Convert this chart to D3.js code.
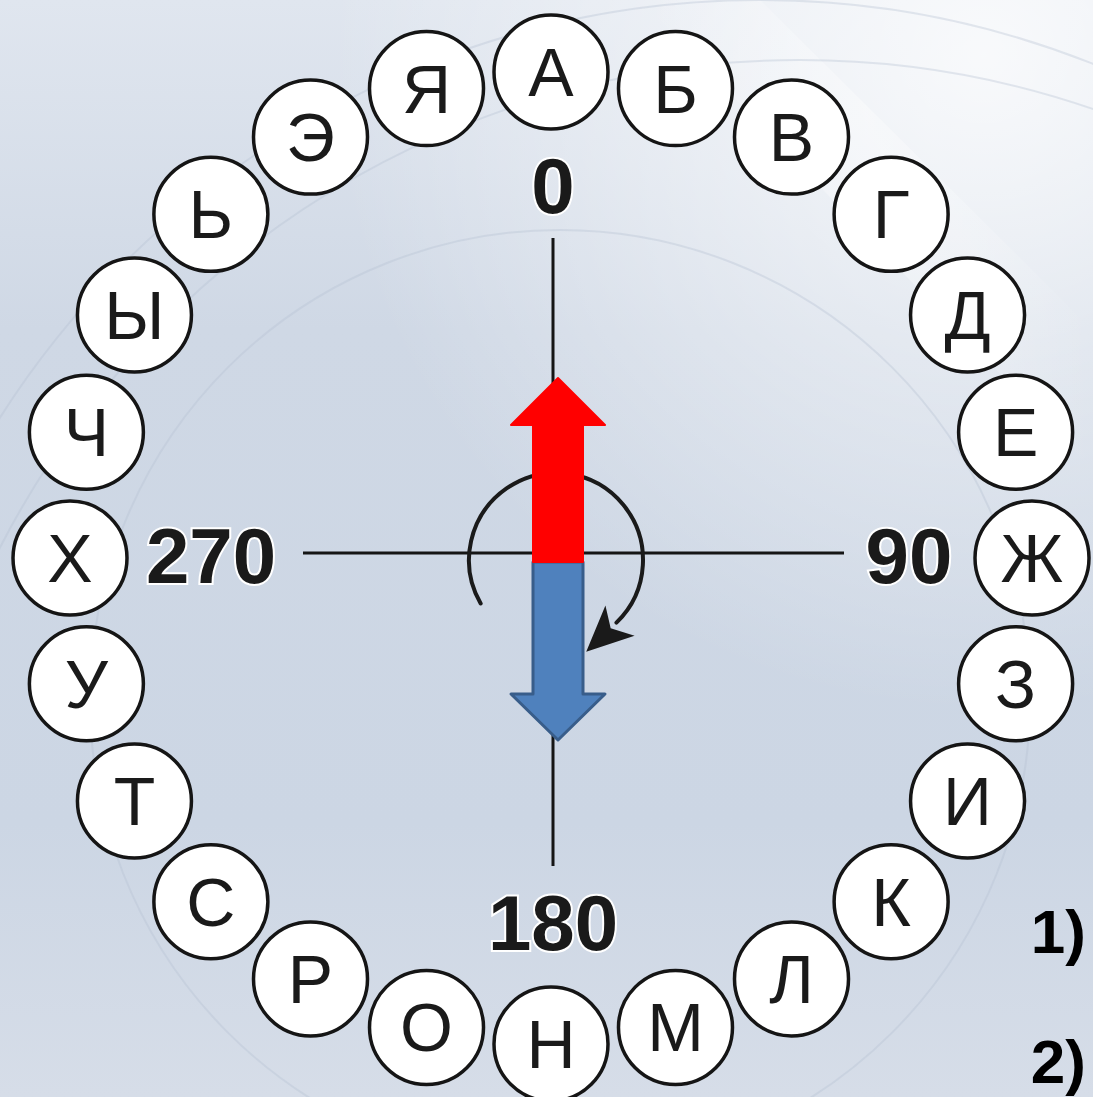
<!DOCTYPE html>
<html>
<head>
<meta charset="utf-8">
<script src="https://cdn.jsdelivr.net/npm/d3@7"></script>
<style>
  html, body { margin: 0; padding: 0; overflow: hidden; }
  svg { display: block; }
</style>
</head>
<body>
<svg id="dial"></svg>
<script>
// letters around the dial, clockwise from the top
const letters = ["А","Б","В","Г","Д","Е","Ж","З","И","К","Л","М","Н","О","Р","С","Т","У","Х","Ч","Ы","Ь","Э","Я"];
const letterDegrees = [0,15,30,45,60,75,90,105,120,135,150,165,180,195,210,225,240,255,270,285,300,315,330,345];

// compass labels
const axisLabels = ["0","90","180","270"];
const axisDegrees = [0,90,180,270];

// rotation arrow (compass degrees, clockwise)
const turnStart = 240;
const turnEnd = 136;

// side notes
const notes = ["1)","2)"];

const width = 1093, height = 1097;
const cx = 551, cy = 558;     // centre of the letter ring
const rx = 481, ry = 486;     // ring radii
const bubbleR = 57;
const axisCx = 553, axisCy = 553;

const svg = d3.select("#dial")
    .attr("width", width)
    .attr("height", height)
    .attr("viewBox", [0, 0, width, height]);

// angle scale: compass degrees -> radians
const angle = d3.scaleLinear().domain([0, 360]).range([0, 2 * Math.PI]);
const px = (deg, r) => Math.sin(angle(deg)) * r;
const py = (deg, r) => -Math.cos(angle(deg)) * r;

// ---- background
const defs = svg.append("defs");
const bg = defs.append("linearGradient").attr("id", "bg")
    .attr("x1", 0).attr("y1", 0).attr("x2", 0).attr("y2", 1);
bg.append("stop").attr("offset", 0).attr("stop-color", "#e0e6ef");
bg.append("stop").attr("offset", 0.3).attr("stop-color", "#cfd8e5");
bg.append("stop").attr("offset", 0.75).attr("stop-color", "#ccd6e4");
bg.append("stop").attr("offset", 1).attr("stop-color", "#d6dde8");

const glow = defs.append("radialGradient").attr("id", "glow")
    .attr("cx", 0.9).attr("cy", 0.05).attr("r", 0.6);
glow.append("stop").attr("offset", 0).attr("stop-color", "#ffffff").attr("stop-opacity", 0.8);
glow.append("stop").attr("offset", 1).attr("stop-color", "#ffffff").attr("stop-opacity", 0);

const band = defs.append("linearGradient").attr("id", "band")
    .attr("x1", 0).attr("y1", 0).attr("x2", 1).attr("y2", 0);
band.append("stop").attr("offset", 0).attr("stop-color", "#ffffff").attr("stop-opacity", 0);
band.append("stop").attr("offset", 0.5).attr("stop-color", "#ffffff").attr("stop-opacity", 0.45);
band.append("stop").attr("offset", 1).attr("stop-color", "#ffffff").attr("stop-opacity", 0);

svg.append("rect").attr("width", width).attr("height", height).attr("fill", "url(#bg)");
svg.append("rect").attr("width", width).attr("height", height).attr("fill", "url(#glow)");

// diagonal light band, top right
svg.append("path")
    .attr("d", "M640,0 L760,0 L1093,330 L1093,470 Z")
    .attr("fill", "url(#band)")
    .attr("opacity", 0.8);

// faint background arcs
const rings = [[760, 900, 900], [800, 960, 900], [560, 700, 470]];
svg.append("g")
  .selectAll("circle")
  .data(rings)
  .join("circle")
    .attr("cx", d => d[0])
    .attr("cy", d => d[1])
    .attr("r", d => d[2])
    .attr("fill", "none")
    .attr("stroke", "#b4c0d2")
    .attr("stroke-opacity", 0.35)
    .attr("stroke-width", 2);

// ---- axes
const axisReach = {0: 315, 90: 291, 180: 313, 270: 250};
svg.append("g")
  .selectAll("line")
  .data(axisDegrees)
  .join("line")
    .attr("x1", axisCx)
    .attr("y1", axisCy)
    .attr("x2", d => axisCx + px(d, axisReach[d]))
    .attr("y2", d => axisCy + py(d, axisReach[d]))
    .attr("stroke", "#151515")
    .attr("stroke-width", 3);

// compass labels
const labelPos = {0: [553, 213], 90: [909, 583], 180: [553, 950], 270: [211, 583]};
svg.append("g")
  .selectAll("text")
  .data(axisDegrees)
  .join("text")
    .attr("x", d => labelPos[d][0])
    .attr("y", d => labelPos[d][1])
    .attr("text-anchor", "middle")
    .attr("font-family", "'Liberation Sans', Arial, sans-serif")
    .attr("font-weight", "bold")
    .attr("font-size", 78)
    .attr("fill", "#1a1a1a")
    .attr("stroke", "#ffffff")
    .attr("stroke-width", 4)
    .attr("paint-order", "stroke")
    .text((d, i) => axisLabels[i]);

// ---- rotation arc with arrowhead
const tc = [556, 560], tr = 87;
const a0 = angle(turnStart) - Math.PI / 2;
const a1 = angle(turnEnd) - Math.PI / 2;
const arc = d3.path();
arc.moveTo(tc[0] + tr * Math.cos(a0), tc[1] + tr * Math.sin(a0));
arc.arc(tc[0], tc[1], tr, a0, a1, false);
svg.append("path")
    .attr("d", arc.toString())
    .attr("fill", "none")
    .attr("stroke", "#1a1a1a")
    .attr("stroke-width", 4)
    .attr("stroke-linecap", "round");

const ex = tc[0] + tr * Math.cos(a1), ey = tc[1] + tr * Math.sin(a1);
const dir = [-Math.sin(a1), Math.cos(a1)];
const nrm = [Math.cos(a1), Math.sin(a1)];
const head = [
  [ex + dir[0] * 42, ey + dir[1] * 42],
  [ex + nrm[0] * 22 - dir[0] * 4, ey + nrm[1] * 22 - dir[1] * 4],
  [ex + dir[0] * 8, ey + dir[1] * 8],
  [ex - nrm[0] * 20 - dir[0] * 4, ey - nrm[1] * 20 - dir[1] * 4]
];
svg.append("path")
    .attr("d", d3.line()(head) + "Z")
    .attr("fill", "#1a1a1a");

// ---- needle (red north, blue south)
const needle = svg.append("g");
const nx = 558, mid = 562, shaftHalf = 25, headHalf = 47;
const north = [[nx - shaftHalf, mid], [nx - shaftHalf, 425], [nx - headHalf, 425], [nx, 378],
               [nx + headHalf, 425], [nx + shaftHalf, 425], [nx + shaftHalf, mid]];
const south = [[nx - shaftHalf, mid], [nx - shaftHalf, 694], [nx - headHalf, 694], [nx, 740],
               [nx + headHalf, 694], [nx + shaftHalf, 694], [nx + shaftHalf, mid]];
needle.append("path")
    .attr("d", d3.line()(south) + "Z")
    .attr("fill", "#4f81bd")
    .attr("stroke", "#385d8a")
    .attr("stroke-width", 3)
    .attr("stroke-linejoin", "round");
needle.append("path")
    .attr("d", d3.line()(north) + "Z")
    .attr("fill", "#ff0000")
    .attr("stroke", "#ff0000")
    .attr("stroke-width", 2)
    .attr("stroke-linejoin", "round");

// ---- letter bubbles
const bubbles = svg.append("g")
  .selectAll("g")
  .data(letters)
  .join("g")
    .attr("transform", (d, i) => `translate(${cx + px(letterDegrees[i], rx)},${cy + py(letterDegrees[i], ry)})`);

bubbles.append("circle")
    .attr("r", bubbleR)
    .attr("fill", "#ffffff")
    .attr("stroke", "#151515")
    .attr("stroke-width", 3.5);

bubbles.append("text")
    .attr("y", 24)
    .attr("text-anchor", "middle")
    .attr("font-family", "'Liberation Sans', Arial, sans-serif")
    .attr("font-size", 68)
    .attr("fill", "#1a1a1a")
    .text(d => d);

// ---- side notes
svg.append("g")
  .selectAll("text")
  .data(notes)
  .join("text")
    .attr("x", 1086)
    .attr("y", (d, i) => 953 + i * 130)
    .attr("text-anchor", "end")
    .attr("font-family", "'Liberation Sans', Arial, sans-serif")
    .attr("font-weight", "bold")
    .attr("font-size", 62)
    .attr("fill", "#000000")
    .text(d => d);
</script>
</body>
</html>
